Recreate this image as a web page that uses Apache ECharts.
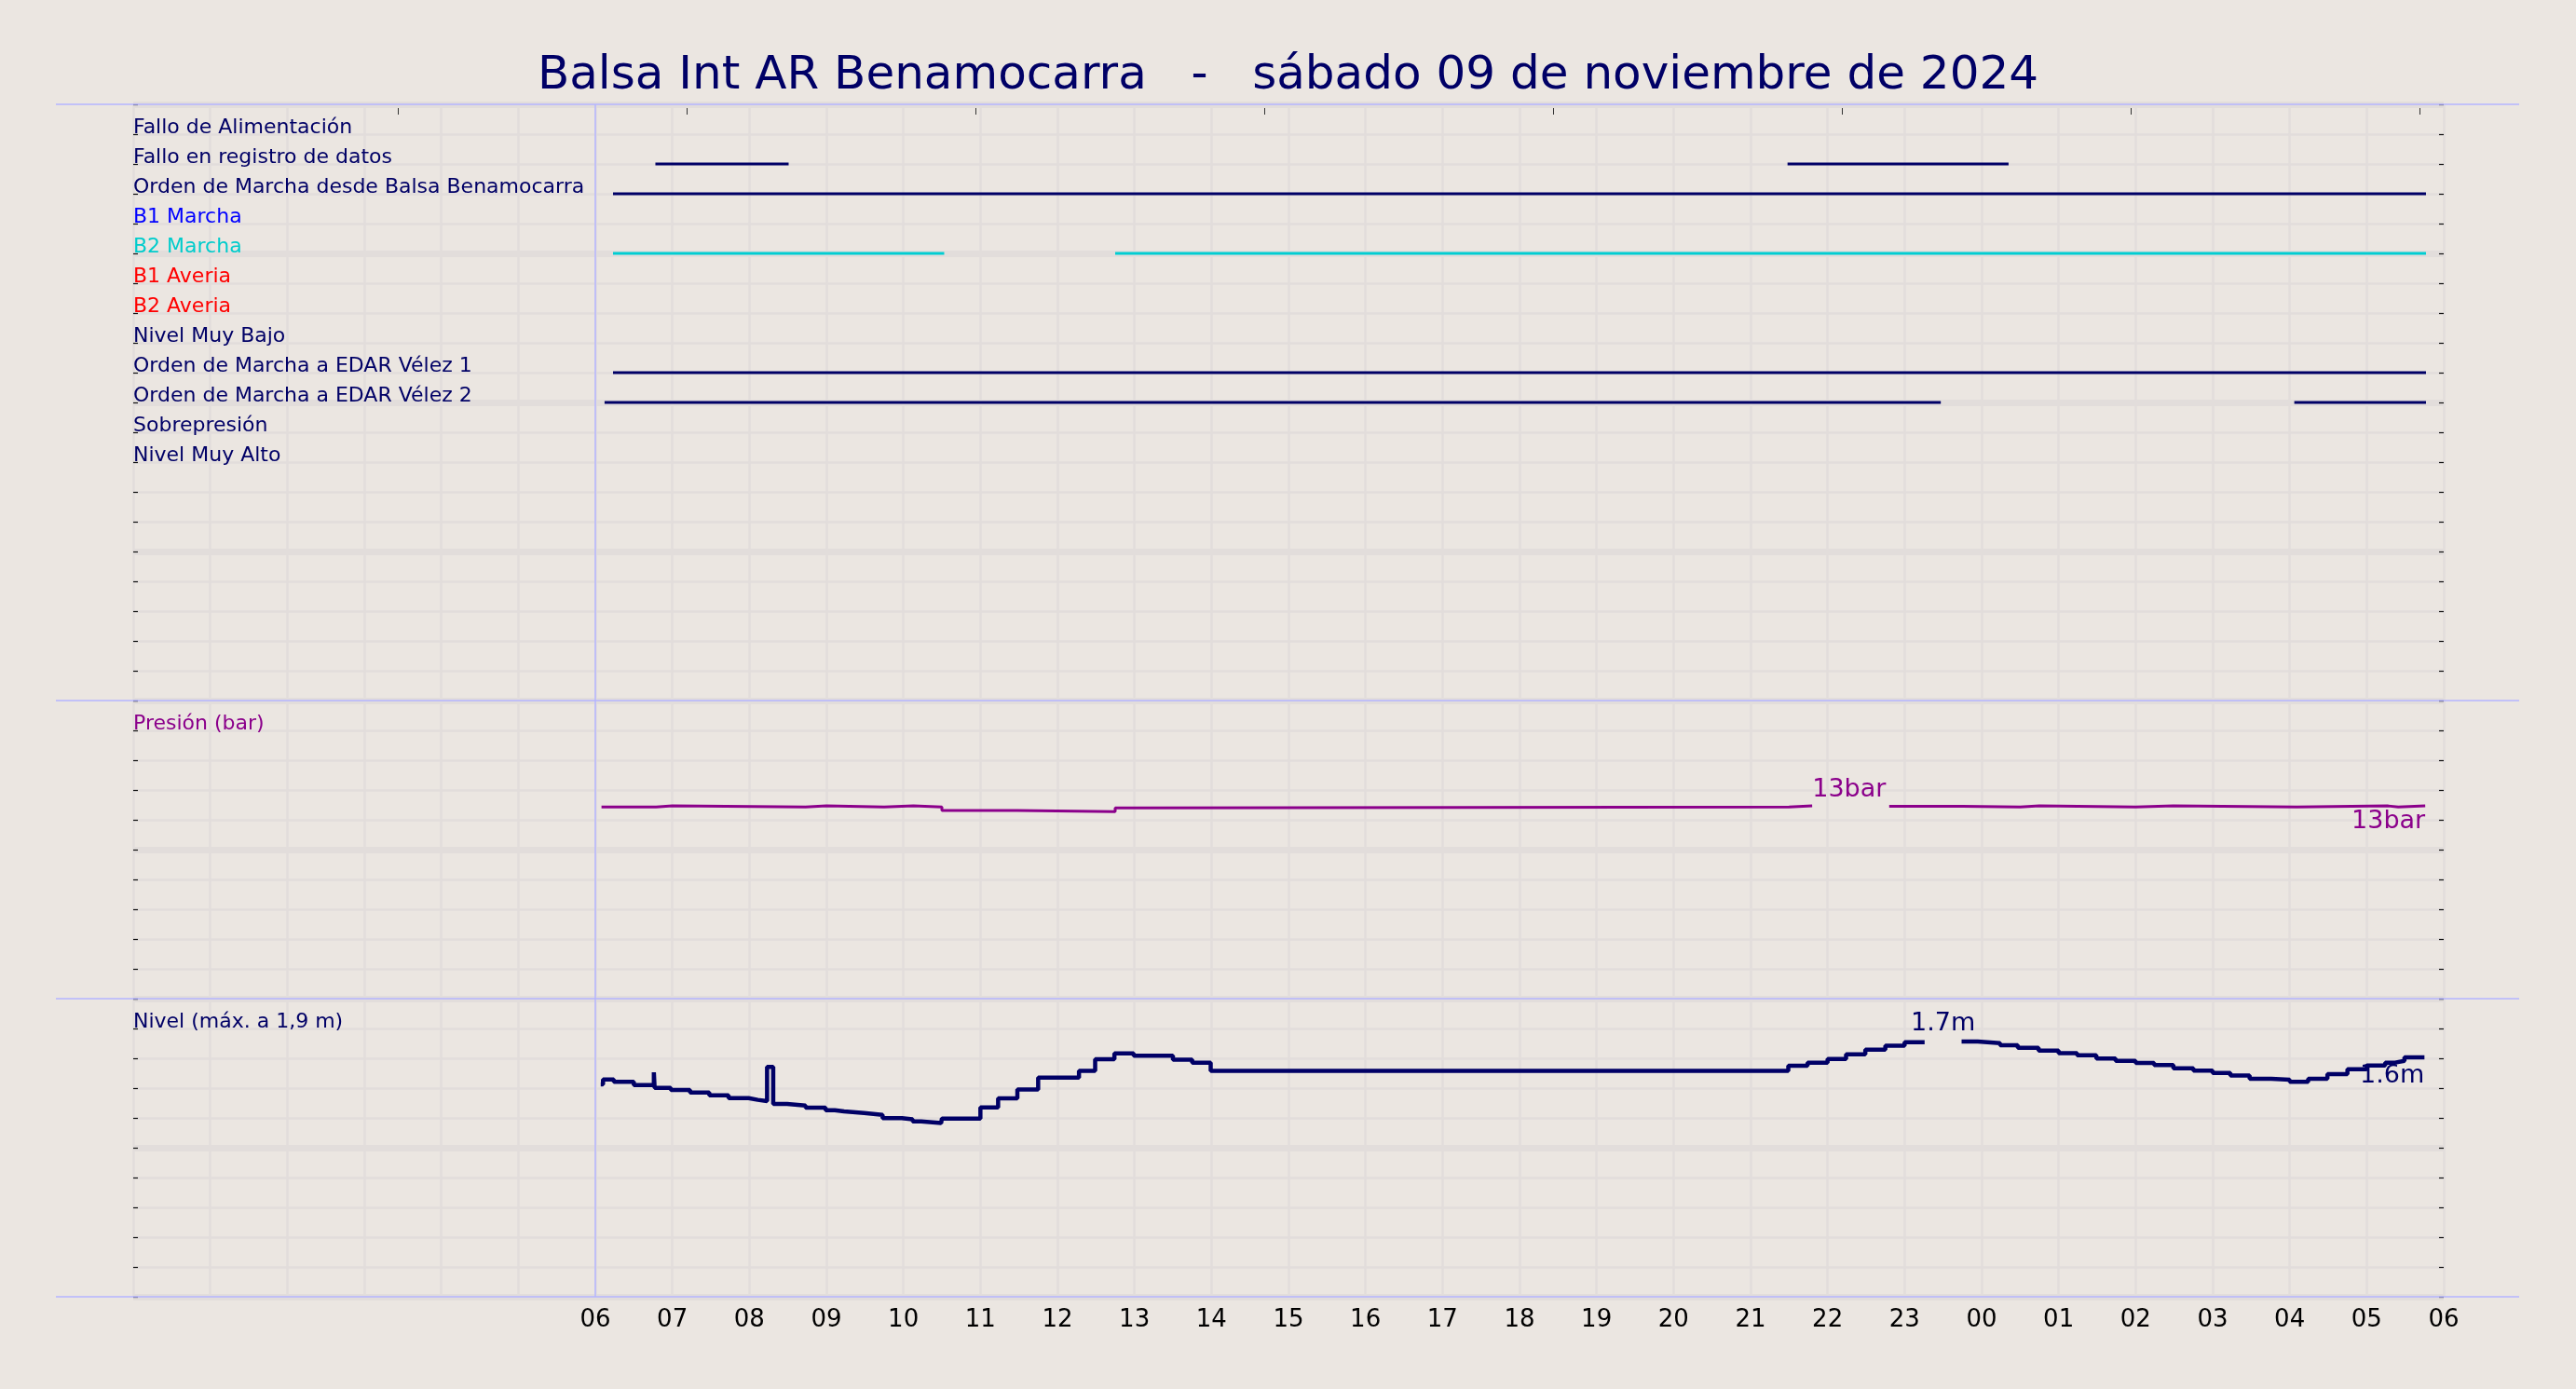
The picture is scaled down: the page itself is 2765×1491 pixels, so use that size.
<!DOCTYPE html>
<html>
<head>
<meta charset="utf-8">
<script src="https://cdn.jsdelivr.net/npm/echarts@6/dist/echarts.min.js"></script>
<style>
html,body{margin:0;padding:0;background:#ebe6e1;}
#c{width:2765px;height:1491px;}
</style>
</head>
<body>
<div id="c"></div>
<script>
// ---------------- DATA ----------------
const titleText = 'Balsa Int AR Benamocarra   -   sábado 09 de noviembre de 2024';

// digital signals (top panel), one row each, from top to bottom
const signalLabels = [
  'Fallo de Alimentación',
  'Fallo en registro de datos',
  'Orden de Marcha desde Balsa Benamocarra',
  'B1 Marcha',
  'B2 Marcha',
  'B1 Averia',
  'B2 Averia',
  'Nivel Muy Bajo',
  'Orden de Marcha a EDAR Vélez 1',
  'Orden de Marcha a EDAR Vélez 2',
  'Sobrepresión',
  'Nivel Muy Alto'
];
// "on" intervals in hours counted from 00:00 of 09/11 (values > 24 are next day)
const signalIntervals = [
  [],
  [[6.78, 8.51], [21.48, 24.35]],
  [[6.23, 29.77]],
  [],
  [[6.23, 10.53], [12.75, 29.77]],
  [],
  [],
  [],
  [[6.23, 29.77]],
  [[6.12, 23.47], [28.06, 29.77]],
  [],
  []
];

const pressureLabel = 'Presión (bar)';
// [hour, bar] change points (null = no data)
const pressurePoints = [
  [6.08, 12.86], [6.79, 12.93], [7.00, 12.86], [8.73, 12.93], [9.00, 12.86],
  [9.75, 12.93], [10.13, 12.86], [10.50, 12.63], [11.48, 12.54], [12.75, 12.79],
  [12.98, 12.86], [21.50, 12.93], [21.80, null], [22.80, 12.90], [23.75, 12.86],
  [24.50, 12.93], [24.75, 12.86], [26.00, 12.93], [26.49, 12.86], [28.09, 12.93],
  [29.28, 12.86], [29.41, 12.93], [29.76, 12.93]
];
const pressureMaxLabelHour = 22.28;

const levelLabel = 'Nivel (máx. a 1,9 m)';
// [hour, metres] change points (null = no data)
const levelPoints = [
  [6.07, 1.425], [6.10, 1.458], [6.24, 1.442], [6.50, 1.421], [6.76, 1.506],
  [6.77, 1.402], [6.98, 1.388], [7.23, 1.371], [7.48, 1.352], [7.73, 1.333],
  [7.99, 1.321], [8.11, 1.313], [8.23, 1.542], [8.31, 1.294], [8.49, 1.283],
  [8.73, 1.269], [8.99, 1.252], [9.11, 1.244], [9.23, 1.233], [9.49, 1.221],
  [9.73, 1.198], [9.98, 1.190], [10.12, 1.177], [10.23, 1.165], [10.49, 1.157],
  [10.50, 1.196], [11.00, 1.271], [11.23, 1.331], [11.48, 1.390], [11.75, 1.471],
  [12.28, 1.515], [12.49, 1.594], [12.74, 1.633], [12.99, 1.617], [13.50, 1.590],
  [13.75, 1.571], [13.99, 1.515], [21.49, 1.550], [21.74, 1.571], [22.00, 1.596],
  [22.24, 1.627], [22.49, 1.658], [22.75, 1.685], [23.00, 1.708], [23.26, null],
  [23.74, 1.712], [23.95, 1.702], [24.24, 1.688], [24.47, 1.671], [24.74, 1.652],
  [25.00, 1.635], [25.24, 1.621], [25.49, 1.598], [25.74, 1.583], [26.00, 1.569],
  [26.24, 1.554], [26.49, 1.533], [26.75, 1.517], [27.00, 1.502], [27.23, 1.485],
  [27.48, 1.463], [27.76, 1.456], [28.00, 1.442], [28.24, 1.463], [28.49, 1.494],
  [28.75, 1.527], [29.00, 1.552], [29.24, 1.571], [29.37, 1.583], [29.49, 1.606],
  [29.75, 1.606]
];
const levelMaxLabelHour = 23.50;

// bottom tick labels for hours 6..30
const hourTickLabels = ['06','07','08','09','10','11','12','13','14','15','16','17','18',
  '19','20','21','22','23','00','01','02','03','04','05','06'];
const firstLabelledHour = 6;
// small tick marks on the top edge (hours)
const topTickHours = [3.435, 7.185, 10.935, 14.685, 18.435, 22.185, 25.935, 29.685];

// ---------------- STYLE ----------------
const BG = '#ebe6e1';
const NAVY = '#000066';
const PURPLE = '#8b008b';
const CYAN = '#00cdd2';
const SEP = '#b4b4ff';
const GRIDC = '#e2dddb';
const FONT = "'DejaVu Sans', sans-serif";
const LABEL_SIZE = 22;
const signalTextStyle = ['navy','navy','navy','blue','cyan','red','red','navy','navy','navy','navy','navy'];
const signalLineColor = [NAVY, NAVY, NAVY, '#0000ff', CYAN, '#ff0000', '#ff0000', NAVY, NAVY, NAVY, NAVY, NAVY];

function rs(color) { return {color: color, fontSize: LABEL_SIZE, fontFamily: FONT, lineHeight: 14}; }
const richStyles = {
  navy: rs(NAVY), blue: rs('#0000ff'), cyan: rs('#00cccc'), red: rs('#ff0000'), purple: rs(PURPLE)
};

const ROWS = 20;
const chart = echarts.init(document.getElementById('c'), null, {width: 2765, height: 1491});

function stepData(points) {
  const out = [];
  for (let i = 0; i < points.length; i++) {
    const t = points[i][0], v = points[i][1];
    if (v === null) {
      if (i > 0 && points[i - 1][1] !== null) out.push([t, points[i - 1][1]]);
      out.push([t, null]);
    } else out.push([t, v]);
  }
  return out;
}
function validVals(points) { return points.filter(p => p[1] !== null).map(p => p[1]); }

const gridDefs = [
  {left: 143, right: 142, top: 112, height: 640},
  {left: 143, right: 142, top: 752, height: 320},
  {left: 143, right: 142, top: 1072, height: 320}
];

function hourAxis(gi, showLabels) {
  return {
    type: 'value', gridIndex: gi, min: 0, max: 30, interval: 1,
    axisLine: {show: false, onZero: false}, axisTick: {show: false},
    axisLabel: {
      show: showLabels, color: '#000', fontSize: 26, fontFamily: FONT, margin: 12,
      formatter: v => (v >= firstLabelledHour ? hourTickLabels[v - firstLabelledHour] : '')
    },
    splitLine: {show: true, lineStyle: {color: GRIDC, width: 2.5}}
  };
}

const xAxes = [hourAxis(0, false), hourAxis(1, false), hourAxis(2, true),
  {
    type: 'value', gridIndex: 0, position: 'top', min: 0, max: 30, offset: -4,
    axisLine: {show: false, onZero: false},
    axisTick: {show: true, inside: true, length: 7, customValues: topTickHours, lineStyle: {color: '#333', width: 1}},
    axisLabel: {show: false}, splitLine: {show: false}
  }
];

const TICK = {color: '#111', width: 1.2};
// left axis: row labels (inside) + thin grid lines
function labelAxis(gi, max, interval, fmt) {
  return {
    type: 'value', gridIndex: gi, position: 'left', min: 0, max: max, interval: interval,
    axisLine: {show: false, onZero: false}, axisTick: {show: false},
    axisLabel: {show: true, inside: true, margin: 0, align: 'left', verticalAlign: 'bottom',
      formatter: fmt, rich: richStyles, fontSize: LABEL_SIZE, fontFamily: FONT, showMinLabel: true, showMaxLabel: true},
    splitLine: {show: true, lineStyle: {color: GRIDC, width: 2.5}}
  };
}
// left axis: small inward ticks only
function leftTickAxis(gi, max, interval) {
  return {
    type: 'value', gridIndex: gi, position: 'left', min: 0, max: max, interval: interval,
    axisLine: {show: false, onZero: false},
    axisTick: {show: true, inside: true, length: 5, lineStyle: TICK},
    axisLabel: {show: false}, splitLine: {show: false}
  };
}
// right axis: thick grid bands + inward ticks every row
function rightAxis(gi, max, interval) {
  return {
    type: 'value', gridIndex: gi, position: 'right', min: 0, max: max, interval: interval,
    axisLine: {show: false, onZero: false},
    axisTick: {show: true, inside: true, length: 5, lineStyle: TICK},
    minorTick: {show: true, splitNumber: 5, length: 5, lineStyle: TICK},
    axisLabel: {show: false},
    splitLine: {show: true, lineStyle: {color: GRIDC, width: 7}}
  };
}

const yAxes = [
  labelAxis(0, ROWS, 1, v => {
    const i = ROWS - 1 - Math.round(v);
    return (i >= 0 && i < signalLabels.length) ? '{' + signalTextStyle[i] + '|' + signalLabels[i] + '}' : '';
  }),
  rightAxis(0, ROWS, 5),
  leftTickAxis(0, ROWS, 1),
  labelAxis(1, 20, 2, v => (Math.abs(v - 18) < 1e-6 ? '{purple|' + pressureLabel + '}' : '')),
  rightAxis(1, 20, 10),
  leftTickAxis(1, 20, 2),
  labelAxis(2, 2, 0.2, v => (Math.abs(v - 1.8) < 1e-6 ? '{navy|' + levelLabel + '}' : '')),
  rightAxis(2, 2, 1),
  leftTickAxis(2, 2, 0.2)
];

const vMark = {
  silent: true, symbol: ['none', 'none'], label: {show: false},
  lineStyle: {color: SEP, width: 1.5, type: 'solid'},
  data: [{xAxis: firstLabelledHour}]
};

const series = [];
let markUsed = false;
signalIntervals.forEach((ivs, i) => {
  const row = ROWS - 1 - i;
  const data = [];
  ivs.forEach(iv => { data.push([iv[0], row], [iv[1], row], [iv[1], null]); });
  const s = {
    type: 'line', xAxisIndex: 0, yAxisIndex: 0, data: data, symbol: 'none', showSymbol: false,
    lineStyle: {color: signalLineColor[i], width: 3}, silent: true, z: 3
  };
  if (!markUsed && ivs.length) { s.markLine = vMark; markUsed = true; }
  series.push(s);
});

const pVals = validVals(pressurePoints);
const pMax = Math.max.apply(null, pVals);
const pLast = pVals[pVals.length - 1];
const pLastHour = pressurePoints[pressurePoints.length - 1][0];
const labelBase = {show: true, position: 'inside', fontSize: 27, fontFamily: FONT};
series.push({
  type: 'line', xAxisIndex: 1, yAxisIndex: 3, data: stepData(pressurePoints), step: 'end',
  symbol: 'none', showSymbol: false, lineStyle: {color: PURPLE, width: 3}, silent: true, z: 3,
  markLine: vMark,
  markPoint: {
    symbol: 'circle', symbolSize: 1, itemStyle: {color: 'rgba(0,0,0,0)'}, silent: true,
    data: [
      {coord: [pressureMaxLabelHour, pMax], label: Object.assign({}, labelBase, {color: PURPLE, offset: [0, -17], formatter: Math.round(pMax) + 'bar'})},
      {coord: [pLastHour, pLast], label: Object.assign({}, labelBase, {color: PURPLE, align: 'right', offset: [0, 17], formatter: Math.round(pLast) + 'bar'})}
    ]
  }
});

const lVals = validVals(levelPoints);
const lMax = Math.max.apply(null, lVals);
const lLast = lVals[lVals.length - 1];
const lLastHour = levelPoints[levelPoints.length - 1][0];
series.push({
  type: 'line', xAxisIndex: 2, yAxisIndex: 6, data: stepData(levelPoints), step: 'end',
  symbol: 'none', showSymbol: false, lineStyle: {color: NAVY, width: 4.5}, silent: true, z: 3,
  markLine: vMark,
  markPoint: {
    symbol: 'circle', symbolSize: 1, itemStyle: {color: 'rgba(0,0,0,0)'}, silent: true,
    data: [
      {coord: [levelMaxLabelHour, lMax], label: Object.assign({}, labelBase, {color: NAVY, offset: [0, -19], formatter: lMax.toFixed(1) + 'm'})},
      {coord: [lLastHour, lLast], label: Object.assign({}, labelBase, {color: NAVY, align: 'right', offset: [0, 20], formatter: lLast.toFixed(1) + 'm'})}
    ]
  }
});

chart.setOption({
  backgroundColor: BG,
  animation: false,
  title: {text: titleText, left: 'center', top: 52,
    textStyle: {fontSize: 50, color: NAVY, fontWeight: 'normal', fontFamily: FONT}},
  grid: gridDefs,
  xAxis: xAxes,
  yAxis: yAxes,
  series: series
});

// separators (light-blue lines spanning past the plot area), placed from the axes' own scales
const tl0 = chart.convertToPixel({gridIndex: 0}, [0, ROWS]);
const br0 = chart.convertToPixel({gridIndex: 0}, [30, 0]);
const br1 = chart.convertToPixel({gridIndex: 1}, [30, 0]);
const br2 = chart.convertToPixel({gridIndex: 2}, [30, 0]);
const x1 = tl0[0] - 83, x2 = br0[0] + 81;
const ys = [tl0[1], br0[1], br1[1], br2[1]];
chart.setOption({
  graphic: ys.map(y => ({
    type: 'line', silent: true, z: 50,
    shape: {x1: x1, y1: y, x2: x2, y2: y},
    style: {stroke: SEP, lineWidth: 1.5}
  }))
});
</script>
</body>
</html>
